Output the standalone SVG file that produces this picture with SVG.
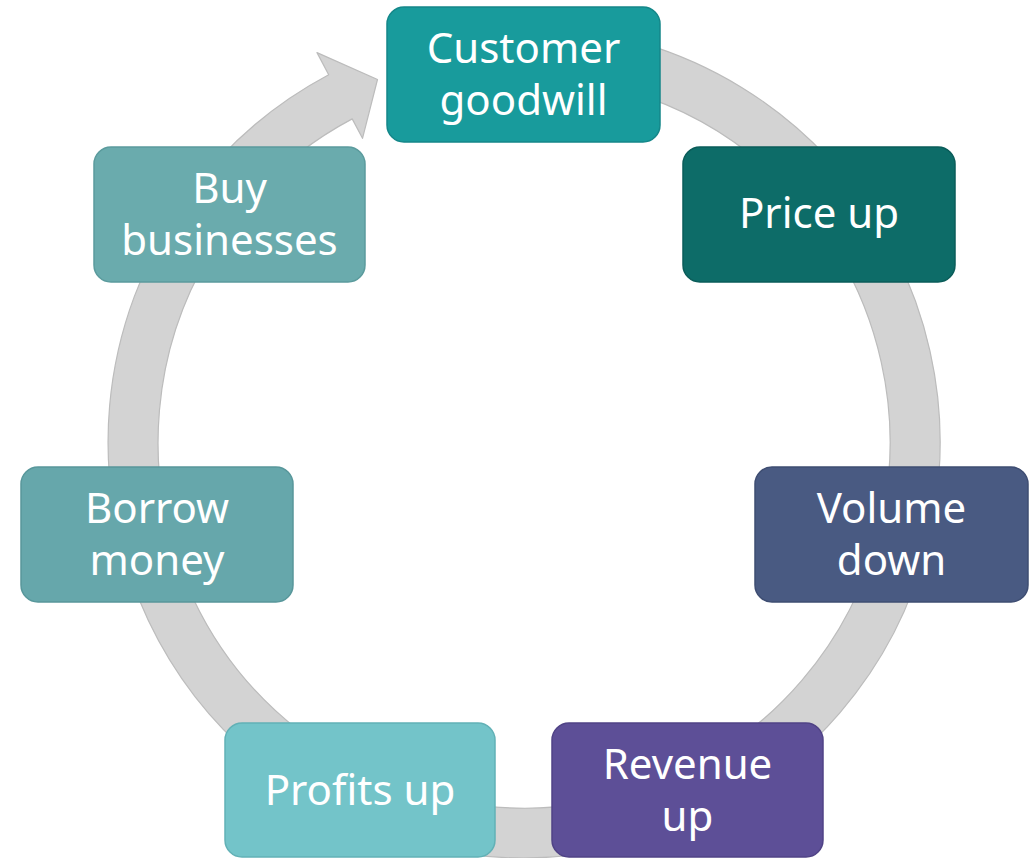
<svg xmlns="http://www.w3.org/2000/svg" width="1029" height="858" viewBox="0 0 1029 858">
  <style>
    .box { stroke-width: 1.5; }
    .lbl { font-family: "Noto Sans", "Open Sans", "Liberation Sans", sans-serif; font-size: 42px; fill: #ffffff; text-anchor: middle; }
    .ring { fill: #d3d3d3; stroke: #bcbcbc; stroke-width: 1.2; stroke-linejoin: round; }
  </style>
  <rect width="1029" height="858" fill="#ffffff"/>

  <!-- cycle ring with arrowhead (centre 524,442; band radii 366..416) -->
  <g id="connectors">
    <path class="ring" d="M 451.8 32.3 A 416 416 0 1 1 328.7 74.7 L 317.0 52.6 L 377.5 79.5 L 362.5 138.3 L 352.2 118.9 A 366 366 0 1 0 460.5 81.6 Z"/>
  </g>

  <g id="customer-goodwill">
    <rect class="box" x="387" y="7" width="273" height="135" rx="17" fill="#189b9c" stroke="#148789"/>
    <text class="lbl" x="523.5" y="63">Customer</text>
    <text class="lbl" x="523.5" y="115">goodwill</text>
  </g>

  <g id="price-up">
    <rect class="box" x="683" y="147" width="272" height="135" rx="17" fill="#0d6c68" stroke="#0a5c59"/>
    <text class="lbl" x="819" y="228">Price up</text>
  </g>

  <g id="volume-down">
    <rect class="box" x="755" y="467" width="273" height="135" rx="17" fill="#495a82" stroke="#3e4d72"/>
    <text class="lbl" x="891.5" y="523">Volume</text>
    <text class="lbl" x="891.5" y="575">down</text>
  </g>

  <g id="revenue-up">
    <rect class="box" x="552" y="723" width="271" height="134" rx="17" fill="#5d4f97" stroke="#504386"/>
    <text class="lbl" x="687.5" y="779">Revenue</text>
    <text class="lbl" x="687.5" y="831">up</text>
  </g>

  <g id="profits-up">
    <rect class="box" x="225" y="723" width="270" height="134" rx="17" fill="#73c4c9" stroke="#62b1b6"/>
    <text class="lbl" x="360" y="805">Profits up</text>
  </g>

  <g id="borrow-money">
    <rect class="box" x="21" y="467" width="272" height="135" rx="17" fill="#66a7ab" stroke="#58979b"/>
    <text class="lbl" x="157" y="523">Borrow</text>
    <text class="lbl" x="157" y="575">money</text>
  </g>

  <g id="buy-businesses">
    <rect class="box" x="94" y="147" width="271" height="135" rx="17" fill="#6aabad" stroke="#5b9b9d"/>
    <text class="lbl" x="229.5" y="203">Buy</text>
    <text class="lbl" x="229.5" y="255">businesses</text>
  </g>
</svg>
